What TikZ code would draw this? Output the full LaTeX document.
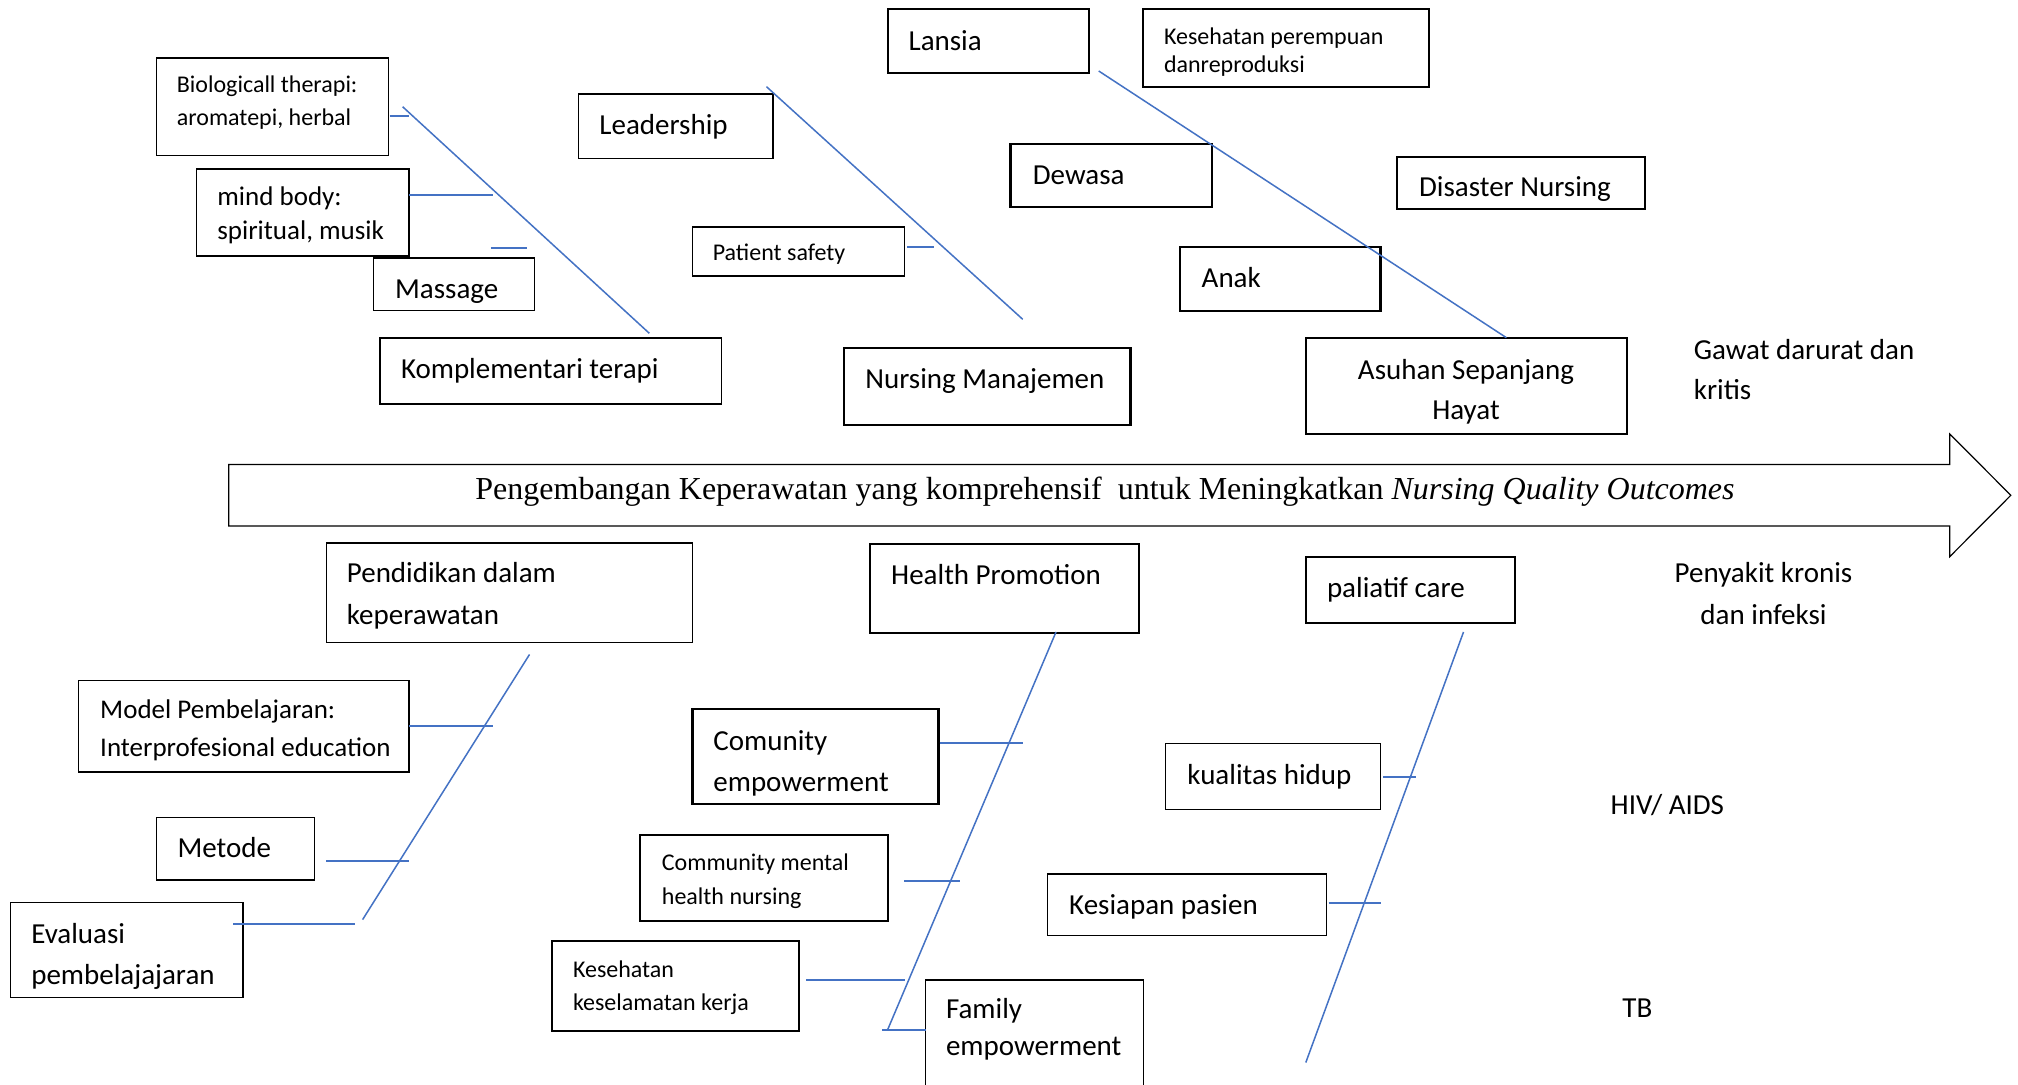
\documentclass[tikz,border=0pt]{standalone}
\usepackage{fontspec}
\setmainfont{Carlito}
\newfontfamily\titlefont{Liberation Serif}
\usetikzlibrary{fit}
\definecolor{bone}{HTML}{4472C4}
\begin{document}
\begin{tikzpicture}[x=0.5pt,y=-0.5pt,
  box/.style={draw=black, line width=0.8pt, inner sep=0pt, rectangle},
  boxb/.style={box, line width=1.1pt},
  big/.style={font=\fontsize{14.5}{17}\selectfont, inner sep=0pt, anchor=base west, yshift=-0.7pt},
  mid/.style={font=\fontsize{13.5}{16}\selectfont, inner sep=0pt, anchor=base west, yshift=-0.7pt},
  small/.style={font=\fontsize{12}{14}\selectfont, inner sep=0pt, anchor=base west, yshift=-0.7pt},
  bonel/.style={draw=bone, line width=0.75pt},
  stub/.style={draw=bone, line width=0.9pt},
  arrowbody/.style={draw=black, line width=0.6pt, fill=white}
]
\clip (0,0) rectangle (2018,1085);
\fill[white] (0,0) rectangle (2018,1085);

% ---------- main arrow ----------
\draw[arrowbody] (228.7,464.5) -- (1949.8,464.5) -- (1949.8,434) -- (2010.8,495.3)
  -- (1949.8,556.6) -- (1949.8,526) -- (228.7,526) -- cycle;
\node[inner sep=0pt, anchor=base west, yshift=-0.6pt, font=\titlefont\fontsize{16}{19}\selectfont] (title) at (475,498.5)
  {Pengembangan Keperawatan yang komprehensif\ \ untuk Meningkatkan \textit{Nursing Quality Outcomes}};

% ---------- upper boxes ----------
\node[box,  fit={(156.5,58.3) (388.4,155.7)}] (bio) {};
\node[box,  fit={(196.5,169.3) (409,256)}] (mind) {};
\node[box,  fit={(373.6,258.3) (534.6,310.7)}] (massage) {};
\node[box,  fit={(380,338.3) (721.4,404.3)}] (kompl) {};
\node[box,  fit={(578.4,94.3) (773,158.7)}] (leader) {};
\node[box,  fit={(692.4,227.3) (904.3,276)}] (patient) {};
\node[boxb, fit={(843.8,347.7) (1130.5,425.3)}] (nursman) {};
\node[boxb, fit={(887.6,9.3) (1089,72.7)}] (lansia) {};
\node[box,  fit={(1142.8,9.3) (1429.1,87)}] (kesper) {};
\node[boxb, fit={(1010.4,143.7) (1212.3,207.3)}] (dewasa) {};
\node[boxb, fit={(1397.3,157) (1644.7,209.3)}] (disaster) {};
\node[boxb, fit={(1179.8,247.3) (1380.4,310.7)}] (anak) {};
\node[boxb, fit={(1305.8,338.3) (1627.1,434)}] (asuhan) {};

% ---------- lower boxes ----------
\node[box,  fit={(326.6,543) (692.4,642.6)}] (pendidikan) {};
\node[boxb, fit={(869.6,543.8) (1139,632.9)}] (healthprom) {};
\node[box,  fit={(78.6,680.4) (409,772)}] (model) {};
\node[box,  fit={(156.5,817.4) (314.3,880.1)}] (metode) {};
\node[box,  fit={(10.3,902.6) (242.8,997.6)}] (evaluasi) {};
\node[boxb, fit={(692.4,708.8) (938.5,803.8)}] (comunity) {};
\node[boxb, fit={(640.3,834.8) (887.6,921.3)}] (cmhn) {};
\node[boxb, fit={(552,940.8) (798.7,1030.7)}] (kkk) {};
\node[box,  fit={(925.6,979.8) (1143.5,1110)}] (family) {};
\node[boxb, fit={(1305.8,557) (1514.8,623.1)}] (paliatif) {};
\node[box,  fit={(1165.6,743.6) (1380.4,809.3)}] (kualitas) {};
\node[box,  fit={(1047.4,874.2) (1326.6,935.3)}] (kesiapan) {};

% ---------- texts ----------
\node[small] (t-bio1) at (176.5,90.7) {Biologicall therapi:};
\node[small] (t-bio2) at (176.5,124.3) {aromatepi, herbal};
\node[mid] (t-mind1) at (217,204) {mind body:};
\node[mid] (t-mind2) at (217,238.3) {spiritual, musik};
\node[big] (t-massage) at (394.8,297.3) {Massage};
\node[big] (t-kompl) at (400.6,376.7) {Komplementari terapi};
\node[big] (t-leader) at (599,132.7) {Leadership};
\node[small] (t-patient) at (712.4,259.3) {Patient safety};
\node[big] (t-nursman) at (865,386.7) {Nursing Manajemen};
\node[big] (t-lansia) at (908.2,49.3) {Lansia};
\node[small] (t-kesper1) at (1163.6,43.3) {Kesehatan perempuan};
\node[small] (t-kesper2) at (1163.6,71) {danreproduksi};
\node[big] (t-dewasa) at (1032.5,182.7) {Dewasa};
\node[big] (t-disaster) at (1418.7,195) {Disaster Nursing};
\node[big] (t-anak) at (1201.3,286) {Anak};
\node[big, anchor=base] (t-asuhan1) at (1466,378.3) {Asuhan Sepanjang};
\node[big, anchor=base] (t-asuhan2) at (1466,418.3) {Hayat};
\node[big] (t-gawat1) at (1693.4,357.7) {Gawat darurat dan};
\node[big] (t-gawat2) at (1693.4,398.3) {kritis};

\node[big] (t-pend1) at (346.5,581.2) {Pendidikan dalam};
\node[big] (t-pend2) at (346.5,622.7) {keperawatan};
\node[big] (t-hp) at (890.8,583.3) {Health Promotion};
\node[mid] (t-model1) at (99.8,716.9) {Model Pembelajaran:};
\node[mid] (t-model2) at (99.8,755) {Interprofesional education};
\node[big] (t-metode) at (177.1,856) {Metode};
\node[big] (t-eval1) at (30.9,941.6) {Evaluasi};
\node[big] (t-eval2) at (30.9,982.8) {pembelajajaran};
\node[big] (t-com1) at (713,748.7) {Comunity};
\node[big] (t-com2) at (713,790.2) {empowerment};
\node[small] (t-cmhn1) at (661.5,869.5) {Community mental};
\node[small] (t-cmhn2) at (661.5,902.6) {health nursing};
\node[small] (t-kkk1) at (572.6,975.6) {Kesehatan};
\node[small] (t-kkk2) at (572.6,1008.6) {keselamatan kerja};
\node[big] (t-fam1) at (945.6,1017) {Family};
\node[big] (t-fam2) at (945.6,1054) {empowerment};
\node[big] (t-paliatif) at (1326.6,596) {paliatif care};
\node[big, anchor=base] (t-peny1) at (1763.5,581.2) {Penyakit kronis};
\node[big, anchor=base] (t-peny2) at (1763.5,622.7) {dan infeksi};
\node[big] (t-kualitas) at (1187,782.6) {kualitas hidup};
\node[big] (t-kesiapan) at (1068.8,913.2) {Kesiapan pasien};
\node[big] (t-hiv) at (1610.3,813) {HIV/ AIDS};
\node[big] (t-tb) at (1622,1015.8) {TB};

% ---------- bones (coordinates) ----------
\coordinate (k-a) at (402.6,106.7);  \coordinate (k-b) at (649.3,333.3);
\coordinate (l-a) at (766.5,86.7);   \coordinate (l-b) at (1022.7,319.3);
\coordinate (a-a) at (1098.7,71);    \coordinate (a-b) at (1506.4,337.7);
\coordinate (p-a) at (529.5,654.5);  \coordinate (p-b) at (362.6,919.6);
\coordinate (h-a) at (1056,632);     \coordinate (h-b) at (887.6,1029.8);
\coordinate (q-a) at (1463.5,632);   \coordinate (q-b) at (1305.8,1062.5);

\draw[bonel] (k-a) -- (k-b);
\draw[bonel] (l-a) -- (l-b);
\draw[bonel] (a-a) -- (a-b);
\draw[bonel] (p-a) -- (p-b);
\draw[bonel] (h-a) -- (h-b);
\draw[bonel] (q-a) -- (q-b);

% ---------- stubs ----------
\coordinate (s1a) at (389.7,116);   \coordinate (s1b) at (409,116);
\coordinate (s2a) at (409,195.3);   \coordinate (s2b) at (492.8,195.3);
\coordinate (s3a) at (490.8,247.7); \coordinate (s3b) at (526.9,247.7);
\coordinate (s4a) at (907,247.3);   \coordinate (s4b) at (934,247.3);
\coordinate (s5a) at (409,725.8);   \coordinate (s5b) at (492.8,725.8);
\coordinate (s6a) at (326,860.6);   \coordinate (s6b) at (409,860.6);
\coordinate (s7a) at (233.2,923.8); \coordinate (s7b) at (355,923.8);
\coordinate (s8a) at (939.5,742.8); \coordinate (s8b) at (1022.7,742.8);
\coordinate (s9a) at (904.3,880.6); \coordinate (s9b) at (959.7,880.6);
\coordinate (s10a) at (806.4,979.8); \coordinate (s10b) at (905,979.8);
\coordinate (s11a) at (882.4,1029.8); \coordinate (s11b) at (925.6,1029.8);
\coordinate (s12a) at (1383,777);   \coordinate (s12b) at (1415.5,777);
\coordinate (s13a) at (1328.5,903);   \coordinate (s13b) at (1381,903);

\foreach \s in {1,...,13} { \draw[stub] (s\s a) -- (s\s b); }
\end{tikzpicture}
\end{document}
